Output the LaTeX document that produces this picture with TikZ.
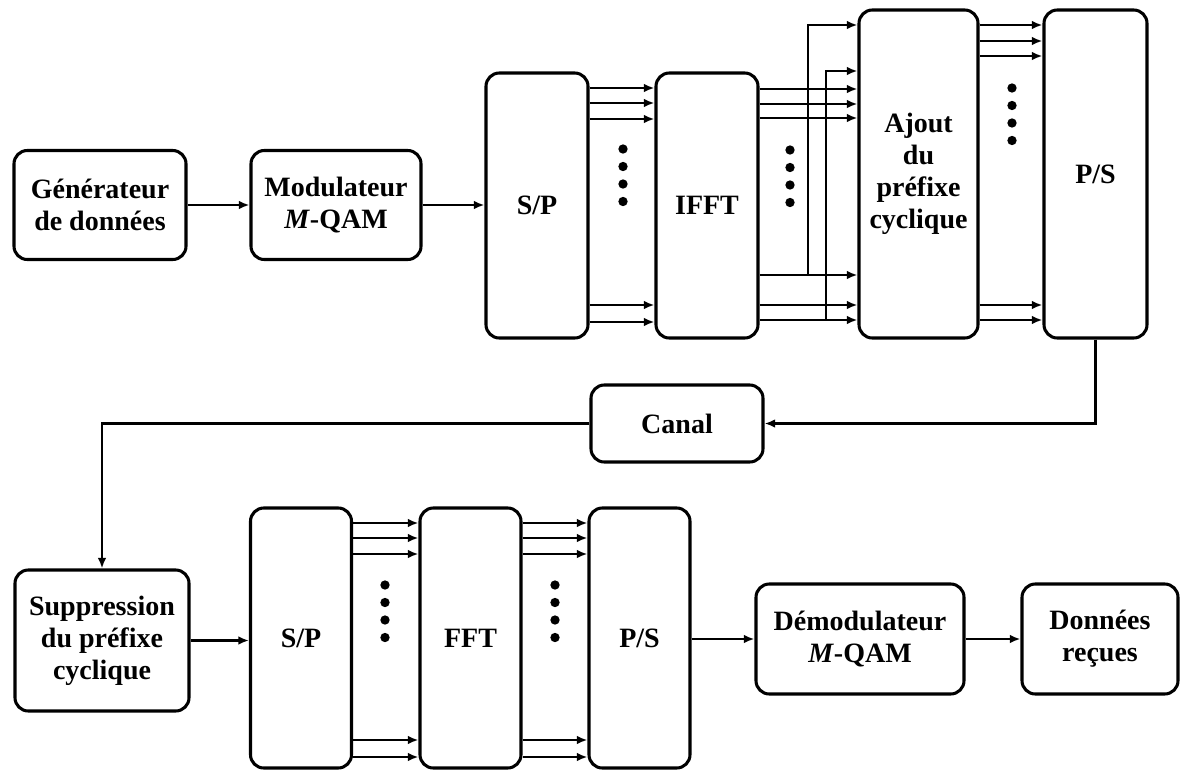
\documentclass[tikz,border=0pt]{standalone}
\usepackage{fontspec}
\setmainfont{Liberation Serif}
\usetikzlibrary{arrows.meta,positioning}
\tikzset{
    blk/.style={
        draw,line width=2.3pt,rounded corners=10pt,
        align=center,inner sep=2pt,
        font=\fontsize{21}{24}\selectfont\bfseries
    },
    arrow/.style={
        -{Latex[length=8pt,width=6.5pt]},line width=1.9pt
    }
}

\begin{document}
\begin{tikzpicture}[x=0.75pt,y=-0.75pt]
\useasboundingbox (0,0) rectangle (1182,771);

% emission
\node[blk,minimum width=129pt,minimum height=81.75pt] (gen) at (100,205) {Générateur\\de données};
\node[blk,minimum width=127.5pt,minimum height=81.75pt] (mod) at (336,205) {Modulateur\\\textit{M}-QAM};
\node[blk,minimum width=76.5pt,minimum height=198.75pt] (sp1) at (537,205.5) {S/P};
\node[blk,minimum width=76.5pt,minimum height=198.75pt] (ifft) at (707,205.5) {IFFT};
\node[blk,minimum width=89.25pt,minimum height=246pt] (cp) at (918.5,174) {Ajout\\du\\préfixe\\cyclique};
\node[blk,minimum width=77.25pt,minimum height=246pt] (ps1) at (1095.5,174) {P/S};

\node[blk,minimum width=129pt,minimum height=57.75pt] (canal) at (677,423.5) {Canal};

% reception
\node[blk,minimum width=130.5pt,minimum height=105.75pt] (rcp) at (102,640.5) {Suppression\\du préfixe\\cyclique};
\node[blk,minimum width=75.75pt,minimum height=195pt] (sp2) at (301,638) {S/P};
\node[blk,minimum width=75.75pt,minimum height=195pt] (fft) at (470.5,638) {FFT};
\node[blk,minimum width=75.75pt,minimum height=195pt] (ps2) at (639.5,638) {P/S};
\node[blk,minimum width=156pt,minimum height=82.5pt] (demod) at (860,639) {Démodulateur\\\textit{M}-QAM};
\node[blk,minimum width=117pt,minimum height=82.5pt] (recv) at (1100,639) {Données\\reçues};

\coordinate (b1) at (808,275);
\coordinate (b2) at (826,320);

\draw[arrow] (gen) -- (mod);
\draw[arrow] (mod.east) -- (mod.east -| sp1.west);
\foreach \y in {88,103,119,305,322}
  \draw[arrow] (sp1.east |- 0,\y) -- (ifft.west |- 0,\y);
\foreach \y in {89,104,118,275,305,320}
  \draw[arrow] (ifft.east |- 0,\y) -- (cp.west |- 0,\y);
\draw[arrow] (b1) |- (cp.west |- 0,25);
\draw[arrow] (b2) |- (cp.west |- 0,71);
\foreach \y in {25,41,56,305,320}
  \draw[arrow] (cp.east |- 0,\y) -- (ps1.west |- 0,\y);

\draw[arrow] (ps1.south) |- (canal.east);
\draw[arrow] (canal.west) -| (rcp.north);

\draw[arrow] (rcp.east) -- (rcp.east -| sp2.west);
\foreach \y in {523,538,554,740,757} {
  \draw[arrow] (sp2.east |- 0,\y) -- (fft.west |- 0,\y);
  \draw[arrow] (fft.east |- 0,\y) -- (ps2.west |- 0,\y);
}
\draw[arrow] (ps2.east |- demod.west) -- (demod.west);
\draw[arrow] (demod) -- (recv);

% points de suspension
\foreach \x/\y in {623/149,790/150,1012/88,385/585,555/585}
  \foreach \k in {0,...,3}
    \fill (\x,{\y+17.5*\k}) circle (3.5pt);

\end{tikzpicture}
\end{document}
